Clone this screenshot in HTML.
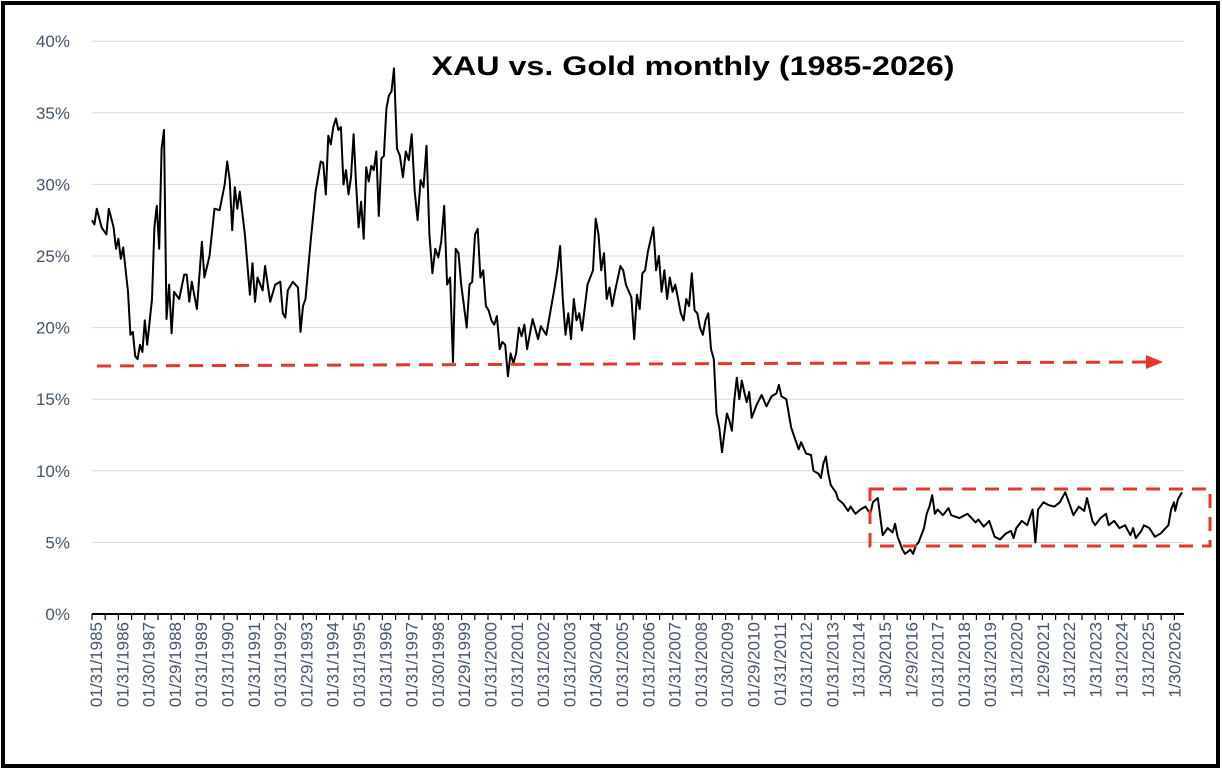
<!DOCTYPE html>
<html><head><meta charset="utf-8"><style>
html,body{margin:0;padding:0;background:#fff;}
svg{display:block;}
</style></head><body>
<svg id="c" width="1222" height="770" xmlns="http://www.w3.org/2000/svg" font-family="Liberation Sans, sans-serif">
<rect x="0" y="0" width="1222" height="770" fill="#fff"/>
<rect x="3" y="3" width="1215" height="763" fill="none" stroke="#000" stroke-width="4"/>
<g id="grid" stroke="#d9d9d9" stroke-width="1"></g>
<g id="ylab" fill="#44546a" font-size="17" text-anchor="end"></g>
<line x1="92" y1="614" x2="1184" y2="614" stroke="#000" stroke-width="2"/>
<g id="ticks" stroke="#000" stroke-width="1.2"></g>
<g id="xlab" fill="#44546a" font-size="17" text-anchor="end"></g>
<text x="693" y="75" font-size="27" font-weight="bold" text-anchor="middle" textLength="523" lengthAdjust="spacingAndGlyphs" fill="#000">XAU vs. Gold monthly (1985-2026)</text>
<path id="series" fill="none" stroke="#000" stroke-width="2" stroke-linejoin="round"/>
<line x1="97" y1="366" x2="1150" y2="362" stroke="#e03a2c" stroke-width="3" stroke-dasharray="14,9"/>
<polygon points="1146,355 1163,362 1146,369" fill="#e03a2c"/>
<rect x="870" y="489" width="340" height="57" fill="none" stroke="#e03a2c" stroke-width="3" stroke-dasharray="14,9"/>
</svg>
<script>
var NS="http://www.w3.org/2000/svg";
function el(p,t,a,txt){var e=document.createElementNS(NS,t);for(var k in a)e.setAttribute(k,a[k]);if(txt)e.textContent=txt;document.getElementById(p).appendChild(e);return e;}
for(var i=0;i<=8;i++){var y=614-i*71.6;
 if(i>0)el("grid","line",{x1:92,x2:1184,y1:y,y2:y});
 el("ylab","text",{x:70,y:y+6},(i*5)+"%");}
for(var x=92;x<=1184;x+=13.2){el("ticks","line",{x1:x,x2:x,y1:614,y2:620});}
var labs=["01/31/1985","01/31/1986","01/30/1987","01/29/1988","01/31/1989","01/31/1990","01/31/1991","01/31/1992","01/29/1993","01/31/1994","01/31/1995","01/31/1996","01/31/1997","01/30/1998","01/29/1999","01/31/2000","01/31/2001","01/31/2002","01/31/2003","01/30/2004","01/31/2005","01/31/2006","01/31/2007","01/31/2008","01/30/2009","01/29/2010","01/31/2011","01/31/2012","01/31/2013","1/31/2014","1/30/2015","1/29/2016","01/31/2017","01/31/2018","01/31/2019","1/31/2020","1/29/2021","1/31/2022","1/31/2023","1/31/2024","1/31/2025","1/30/2026"];
for(var i=0;i<labs.length;i++){var x=96+i*26.3+6;
 el("xlab","text",{x:0,y:0,transform:"translate("+x+",622) rotate(-90)"},labs[i]);}
var d=[1985.0,27.5,1985.1,27.2,1985.2,28.3,1985.4,27,1985.6,26.5,1985.7,28.3,1985.9,27,1986.0,25.5,1986.1,26.2,1986.2,24.8,1986.3,25.6,1986.5,22.5,1986.6,19.5,1986.7,19.7,1986.8,18,1986.9,17.8,1987.0,18.8,1987.1,18.3,1987.2,20.5,1987.3,18.8,1987.5,22,1987.6,27,1987.7,28.5,1987.8,25.5,1987.9,32.5,1988.0,33.8,1988.1,20.6,1988.2,23,1988.3,19.6,1988.4,22.5,1988.6,22,1988.8,23.7,1988.9,23.7,1989.0,21.8,1989.1,23.2,1989.3,21.3,1989.5,26,1989.6,23.5,1989.8,25,1990.0,28.3,1990.2,28.2,1990.4,30,1990.5,31.6,1990.6,30.3,1990.7,26.8,1990.8,29.8,1990.9,28.3,1991.0,29.5,1991.2,26.5,1991.4,22.3,1991.5,24.5,1991.6,21.8,1991.7,23.5,1991.9,22.6,1992.0,24.3,1992.2,21.8,1992.4,23,1992.6,23.2,1992.7,21,1992.8,20.7,1992.9,22.6,1993.1,23.2,1993.3,22.8,1993.4,19.7,1993.5,21.5,1993.6,22,1993.8,26,1994.0,29.5,1994.2,31.6,1994.3,31.5,1994.4,29.3,1994.5,33.4,1994.6,32.8,1994.7,34,1994.8,34.6,1994.9,33.8,1995.0,34,1995.1,30,1995.2,31,1995.3,29.3,1995.4,30.5,1995.5,33.5,1995.6,30,1995.7,27,1995.8,28.8,1995.9,26.2,1996.0,31.2,1996.1,30.2,1996.2,31.3,1996.3,31,1996.4,32.3,1996.5,27.8,1996.6,31.8,1996.7,32,1996.8,35.3,1996.9,36.2,1997.0,36.5,1997.1,38.1,1997.2,32.5,1997.3,32,1997.4,30.5,1997.5,32.3,1997.6,31.7,1997.7,33.5,1997.8,29.5,1997.9,27.5,1998.0,30.3,1998.1,29.8,1998.2,32.7,1998.3,26.5,1998.4,23.8,1998.5,25.5,1998.6,24.9,1998.7,26,1998.8,28.5,1998.9,23,1999.0,23.5,1999.1,17.6,1999.2,25.5,1999.3,25.2,1999.4,23,1999.5,21.5,1999.6,20,1999.7,23,1999.8,23.2,1999.9,26.5,2000.0,26.9,2000.1,23.5,2000.2,24,2000.3,21.5,2000.4,21.2,2000.5,20.5,2000.6,20.2,2000.7,20.8,2000.8,18.5,2000.9,19,2001.0,18.8,2001.1,16.6,2001.2,18.2,2001.3,17.5,2001.4,18.2,2001.5,20,2001.6,19.4,2001.7,20.2,2001.8,18.5,2002.0,20.6,2002.2,19.2,2002.3,20.1,2002.5,19.5,2002.8,22.8,2002.9,24,2003.0,25.7,2003.1,22,2003.2,19.5,2003.3,21,2003.4,19.2,2003.5,22,2003.6,20.5,2003.7,21,2003.8,19.8,2004.0,23,2004.2,24,2004.3,27.6,2004.4,26.5,2004.5,24,2004.6,25.2,2004.7,22,2004.8,22.8,2004.9,21.5,2005.0,22.5,2005.2,24.3,2005.3,24,2005.4,23,2005.6,22.1,2005.7,19.2,2005.8,22.3,2005.9,21.3,2006.0,23.8,2006.1,24,2006.2,25.3,2006.4,27,2006.5,24,2006.6,25,2006.7,22.5,2006.8,24,2006.9,22,2007.0,23.5,2007.1,22.5,2007.2,23,2007.4,21,2007.5,20.5,2007.6,22,2007.7,21.5,2007.8,23.8,2007.9,21.2,2008.0,21,2008.1,20,2008.2,19.5,2008.3,20.5,2008.4,21,2008.5,18.5,2008.6,17.8,2008.7,14,2008.8,13,2008.9,11.3,2009.0,12.7,2009.1,14,2009.2,13.5,2009.3,12.8,2009.4,15,2009.5,16.5,2009.6,15,2009.7,16.3,2009.8,15.5,2009.9,14.8,2010.0,15.5,2010.1,13.7,2010.3,14.6,2010.5,15.3,2010.7,14.5,2010.9,15.2,2011.1,15.4,2011.2,16,2011.3,15.2,2011.5,15,2011.7,13,2011.9,12,2012.0,11.5,2012.1,12,2012.3,11.2,2012.5,11.1,2012.6,10,2012.8,9.8,2012.9,9.5,2013.0,10.5,2013.1,11,2013.2,9.8,2013.3,9,2013.5,8.5,2013.6,8,2013.8,7.7,2014.0,7.2,2014.1,7.5,2014.3,7,2014.5,7.3,2014.7,7.5,2014.9,7,2015.0,7.8,2015.2,8.1,2015.4,5.5,2015.6,6,2015.8,5.7,2015.9,6.3,2016.0,5.4,2016.2,4.5,2016.3,4.2,2016.5,4.5,2016.6,4.2,2016.7,4.8,2016.8,5,2017.0,6,2017.1,7,2017.2,7.5,2017.3,8.3,2017.4,7,2017.5,7.3,2017.7,6.9,2017.9,7.4,2018.0,6.9,2018.3,6.7,2018.6,7,2018.9,6.4,2019.0,6.6,2019.2,6.1,2019.4,6.5,2019.6,5.4,2019.8,5.2,2020.0,5.6,2020.2,5.8,2020.3,5.3,2020.4,6,2020.6,6.5,2020.8,6.2,2021.0,7.3,2021.1,5,2021.2,7.3,2021.4,7.8,2021.6,7.6,2021.8,7.5,2022.0,7.8,2022.2,8.5,2022.3,8,2022.5,6.9,2022.7,7.5,2022.9,7.2,2023.0,8.1,2023.2,6.5,2023.3,6.2,2023.5,6.7,2023.7,7,2023.8,6.2,2024.0,6.5,2024.2,6,2024.4,6.2,2024.6,5.5,2024.7,6,2024.8,5.3,2025.0,5.8,2025.1,6.2,2025.3,6,2025.5,5.4,2025.7,5.6,2025.9,6.0,2026.0,6.2,2026.1,7.3,2026.2,7.8,2026.25,7.2,2026.35,8,2026.5,8.5];
var A=[[1985.0,92],[1988.0,164],[1997.1,394],[1999.1,453],[2008.9,722],[2016.3,905],[2026.5,1182]];
function mx(t){for(var j=0;j<A.length-1;j++){if(t<=A[j+1][0]){var f=(t-A[j][0])/(A[j+1][0]-A[j][0]);return A[j][1]+f*(A[j+1][1]-A[j][1]);}}return A[A.length-1][1];}
var p="";for(var i=0;i<d.length;i+=2){var x=mx(d[i]);var y=614-d[i+1]*14.32;p+=(i?"L":"M")+x.toFixed(1)+","+y.toFixed(1);}
document.getElementById("series").setAttribute("d",p);
</script>
</body></html>
